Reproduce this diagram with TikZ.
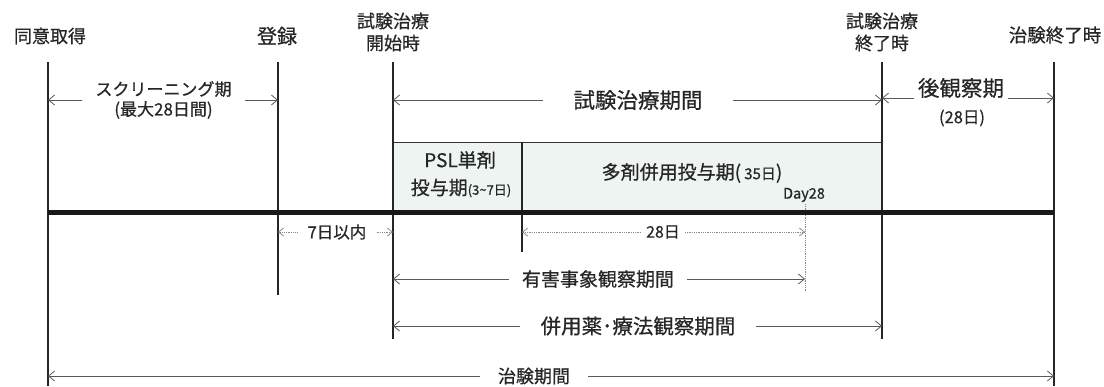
\documentclass[tikz,border=0pt]{standalone}
\usepackage{fontspec}
\newfontfamily\jp{Noto Sans CJK JP}[FakeBold=0.6]
\usetikzlibrary{arrows.meta}
\definecolor{txt}{HTML}{262626}
\definecolor{boxfill}{HTML}{EDF4F2}
\definecolor{arrgray}{HTML}{5A5A5A}
\definecolor{dotgray}{HTML}{8A8A8A}
\newcommand{\fs}[1]{\fontsize{#1}{#1}\selectfont}
\tikzset{
  lab/.style={font=\jp\fontsize{18}{22}\selectfont, text=txt, inner sep=0pt, align=center},
  vline/.style={draw=black!85, line width=1.2pt},
  arr/.style={draw=arrgray, line width=0.8pt, -{Straight Barb[length=6pt,width=10pt]}},
  darr/.style={draw=dotgray, line width=0.8pt, densely dotted, -{Straight Barb[length=5pt,width=8pt]}},
}
\begin{document}
\begin{tikzpicture}[x=1pt,y=-1pt]
\useasboundingbox (0,0) rectangle (1104,386);
% box
\fill[boxfill] (393,142) rectangle (882,212);
\draw[black!80, line width=0.8pt] (393,142) -- (882,142);
% vertical lines
\coordinate (L1t) at (48,62);   \coordinate (L1b) at (48,386);
\coordinate (L2t) at (278,62);  \coordinate (L2b) at (278,295);
\coordinate (L3t) at (393,62);  \coordinate (L3b) at (393,339);
\coordinate (L4t) at (882,62);  \coordinate (L4b) at (882,339);
\coordinate (L5t) at (1054,62); \coordinate (L5b) at (1054,386);
\coordinate (Dt) at (522,142);  \coordinate (Db) at (522,252);
\coordinate (D28t) at (805,204); \coordinate (D28b) at (805,292);
\draw[vline] (L1t) -- (L1b);
\draw[vline] (L2t) -- (L2b);
\draw[vline] (L3t) -- (L3b);
\draw[vline] (L4t) -- (L4b);
\draw[vline] (L5t) -- (L5b);
\draw[vline] (Dt) -- (Db);
\draw[dotgray, line width=0.8pt, densely dotted] (D28t) -- (D28b);
% thick time line
\draw[black!90, line width=5pt] (L1t |- 0,212) -- (L5t |- 0,212);
% top labels
\node[lab, font=\jp\fs{18}] (t1) at (50,36) {同意取得};
\node[lab, font=\jp\fs{20}] (t2) at (277,36) {登録};
\node[lab, font=\jp\fontsize{18}{22}\selectfont] (t3) at (393,32) {試験治療\\開始時};
\node[lab, font=\jp\fontsize{18}{22}\selectfont] (t4) at (882,32) {試験治療\\終了時};
\node[lab, font=\jp\fs{18.5}] (t5) at (1055,35) {治験終了時};
% screening
\node[lab, inner xsep=13pt, font=\jp\fontsize{17}{20}\selectfont] (scr) at (163.5,100) {スクリーニング期\\(最大28日間)};
\draw[arr] (scr.west) -- (scr.west -| L1t);
\draw[arr] (scr.east) -- (scr.east -| L2t);
% treatment period
\node[lab, inner xsep=30pt, font=\jp\fs{21.5}] (trt) at (638,100) {試験治療期間};
\draw[arr] (trt.west) -- (trt.west -| L3t);
\draw[arr] (trt.east) -- (trt.east -| L4t);
% post observation
\node[lab, inner xsep=4pt, font=\jp\fs{21.5}] (post) at (961,88) {後観察期};
\node[lab, font=\jp\fs{16.5}] (post2) at (962,118) {(28日)};
\draw[arr] ([yshift=-10pt]post.west) -- ([yshift=-10pt]post.west -| L4t);
\draw[arr] ([yshift=-10pt]post.east) -- ([yshift=-10pt]post.east -| L5t);
% box texts
\node[lab, font=\jp\fs{19}] (psl1) at (460,160) {PSL単剤};
\node[lab, font=\jp\fs{19}] (psl2) at (461,188) {投与期{\fs{13}(3\textasciitilde7日)}};
\node[lab, font=\jp\fs{19}] (multi) at (692,173) {多剤併用投与期(\,{\fs{15}35日})};
\node[lab, font=\jp\fs{14.5}] (day28) at (804,195) {Day28};
% 7 days
\node[lab, inner xsep=10pt, font=\jp\fs{16.5}] (seven) at (337,232) {7日以内};
\draw[darr] (seven.west) -- (seven.west -| L2t);
\draw[darr] (seven.east) -- (seven.east -| L3t);
% 28 days
\node[lab, inner xsep=5pt, font=\jp\fs{16}] (d28) at (663,232) {28日};
\draw[darr] (d28.west) -- (d28.west -| Dt);
\draw[darr] (d28.east) -- (d28.east -| D28t);
% adverse events
\node[lab, inner xsep=13pt, font=\jp\fs{19}] (ae) at (598,279) {有害事象観察期間};
\draw[arr] (ae.west) -- (ae.west -| L3t);
\draw[arr] (ae.east) -- (ae.east -| D28t);
% concomitant
\node[lab, inner xsep=20pt, font=\jp\fs{20.5}] (con) at (638,326) {併用薬･療法観察期間};
\draw[arr] (con.west) -- (con.west -| L3t);
\draw[arr] (con.east) -- (con.east -| L4t);
% whole trial
\node[lab, inner xsep=18pt, font=\jp\fs{18}] (all) at (534,376) {治験期間};
\draw[arr] (all.west) -- (all.west -| L1t);
\draw[arr] (all.east) -- (all.east -| L5t);
\end{tikzpicture}
\end{document}
